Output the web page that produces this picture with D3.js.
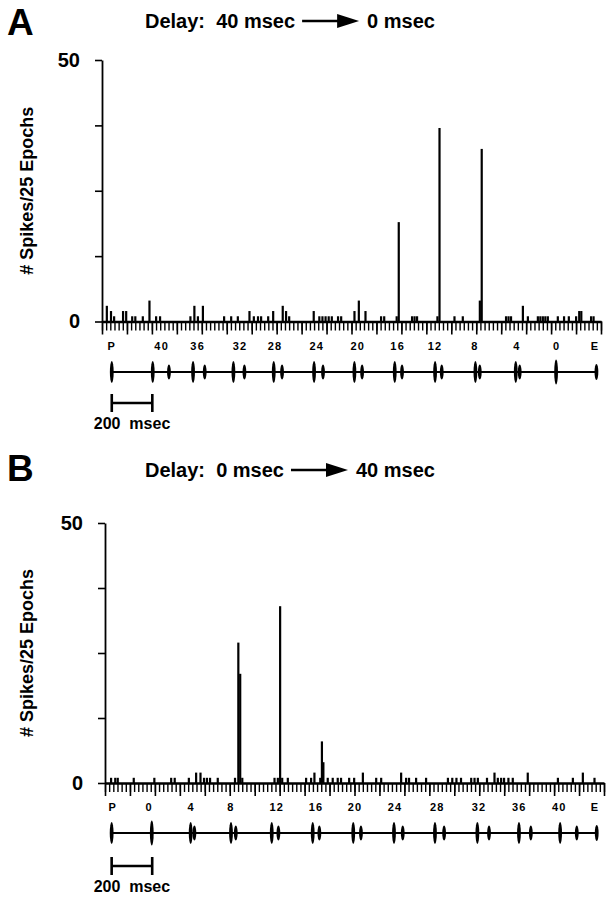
<!DOCTYPE html>
<html><head><meta charset="utf-8">
<script src="https://cdn.jsdelivr.net/npm/d3@7/dist/d3.min.js"></script>
<style>
body{margin:0;background:#fff}
svg{display:block}
text{font-family:"Liberation Sans",Arial,Helvetica,sans-serif;font-weight:bold;fill:#000}
</style>
</head><body>
<svg id="c" width="613" height="899"></svg>
<script>
// ---------- DATA ----------
const yTicks = [0, 12.5, 25, 37.5, 50];
const yTickLabels = {0: "0", 50: "50"};
const yTitle = "# Spikes/25 Epochs";
const scaleBarLabel = "200  msec";
const scaleBarLen = 195;           // axis units for 200 msec

// Panel A: delay 40 -> 0 msec
const titleA = ["Delay:  40 msec", "0 msec"];
const tickLabelsA = ["P","40","36","32","28","24","20","16","12","8","4","0","E"];
const tickPosA    = [47,287,460,664,832,1033,1230,1422,1602,1794,1995,2187,2371];
const markersA    = [47, 2378];                       // P, E
const firstPulseA = [244,438,632,826,1020,1214,1408,1602,1796,1990,2184];
const delayA      = [78,56,53,40,43,37,35,32,21,19,0];
const spikeTimesA = [18,38,53,96,111,140,155,191,223,255,274,420,439,456,480,582,616,648,704,725,745,760,794,818,864,880,895,1013,1040,1055,1070,1085,1100,1130,1145,1209,1230,1262,1337,1352,1412,1422,1486,1498,1510,1608,1618,1690,1730,1812,1821,1938,1950,1962,2019,2043,2091,2103,2115,2127,2139,2187,2217,2240,2275,2290,2300,2347,2359];
const spikeCountsA= [3,2,1,2,2,1,1,1,4,1,1,1,3,1,3,1,1,1,2,1,1,1,1,2,3,2,1,2,1,1,1,1,1,1,1,2,4,2,1,1,1,19,1,1,1,1,37,1,1,4,33,1,1,1,3,1,1,1,1,1,1,1,1,1,1,2,2,1,1];

// Panel B: delay 0 -> 40 msec
const titleB = ["Delay:  0 msec", "40 msec"];
const tickLabelsB = ["P","0","4","8","12","16","20","24","28","32","36","40","E"];
const tickPosB    = [37,213,414,606,826,1015,1203,1395,1598,1799,1993,2185,2357];
const markersB    = [32, 2365];
const firstPulseB = [225,412,606,802,999,1194,1390,1587,1791,1991,2189];
const delayB      = [0,18,23,32,32,37,42,44,56,57,80];
const spikeTimesB = [24,44,56,133,232,313,330,398,433,454,471,485,500,537,620,636,645,655,810,826,837,847,874,962,986,1002,1030,1038,1045,1066,1090,1114,1130,1169,1193,1235,1299,1323,1419,1443,1457,1491,1539,1644,1665,1685,1707,1756,1772,1788,1832,1868,1884,1900,1914,1935,1956,2028,2173,2245,2293,2349];
const spikeCountsB= [1,1,1,1,1,1,1,1,2,2,1,1,1,1,1,27,21,1,1,1,34,1,1,1,1,2,1,8,4,1,1,1,1,1,1,2,1,1,2,1,1,1,1,1,1,1,1,1,1,1,1,2,1,1,1,1,1,2,1,1,2,1];

// ---------- DRAW ----------
const svg = d3.select("#c");

function drawPanel(p) {
  const g = svg.append("g");
  const x = d3.scaleLinear().domain([0, 2400]).range([p.x0, p.x1]);
  const y = d3.scaleLinear().domain([0, 50]).range([p.base, p.top]);

  // panel letter
  g.append("text").attr("x", 7).attr("y", p.letterY).attr("font-size", 37).text(p.letter);

  // title with arrow
  const tl = g.append("text").attr("x", 145).attr("y", p.titleY).attr("font-size", 20)
    .style("white-space", "pre").text(p.title[0]);
  const le = 145 + tl.node().getComputedTextLength();
  const a0 = le + 7, a1 = le + 64;
  g.append("line").attr("x1", a0).attr("x2", a1 - 20).attr("y1", p.titleY - 7).attr("y2", p.titleY - 7)
    .attr("stroke", "#000").attr("stroke-width", 2.6);
  g.append("path").attr("d", `M${a1 - 22},${p.titleY - 14}L${a1},${p.titleY - 7}L${a1 - 22},${p.titleY}Z`).attr("fill", "#000");
  g.append("text").attr("x", a1 + 8).attr("y", p.titleY).attr("font-size", 20)
    .style("white-space", "pre").text(p.title[1]);

  // y axis
  const ya = g.append("g").attr("transform", `translate(${p.x0},0)`)
    .call(d3.axisLeft(y).tickValues(yTicks).tickSize(7).tickSizeOuter(0).tickPadding(15)
      .tickFormat(d => yTickLabels[d] || ""));
  ya.select(".domain").attr("stroke-width", 1.8);
  ya.selectAll(".tick line").attr("stroke-width", 1.6);
  ya.selectAll(".tick text").attr("font-size", 20).attr("font-family", null).attr("font-weight", "bold");

  // y title
  g.append("text").attr("transform", `translate(33,${(p.top + p.base) / 2}) rotate(-90)`)
    .attr("text-anchor", "middle").attr("font-size", 18).text(yTitle);

  // histogram bars
  g.selectAll("rect.bar").data(p.times.map((t, i) => ({t, c: p.counts[i]}))).join("rect")
    .attr("class", "bar")
    .attr("x", d => x(d.t)).attr("width", 2.2)
    .attr("y", d => y(d.c)).attr("height", d => y(0) - y(d.c)).attr("fill", "#000");

  // x axis: minor and major ticks
  const xa = g.append("g").attr("transform", `translate(0,${p.base})`)
    .call(d3.axisBottom(x).tickValues(d3.range(0, 2401, 20)).tickSize(9).tickSizeOuter(0).tickFormat(""));
  xa.select(".domain").attr("stroke-width", 2.6);
  xa.selectAll(".tick line").attr("stroke-width", 1.4);
  const xb = g.append("g").attr("transform", `translate(0,${p.base})`)
    .call(d3.axisBottom(x).tickValues(d3.range(0, 2401, 120)).tickSize(13).tickSizeOuter(0).tickFormat(""));
  xb.select(".domain").remove();
  xb.selectAll(".tick line").attr("stroke-width", 1.6);

  // event labels
  g.selectAll("text.lab").data(p.labels).join("text").attr("class", "lab")
    .attr("x", (d, i) => x(p.labelPos[i])).attr("y", p.base + 28)
    .attr("text-anchor", "middle").attr("font-size", 11).attr("letter-spacing", 1.2).text(d => d);

  // stimulus row
  const ey = p.eventY;
  g.append("line").attr("x1", x(p.markers[0])).attr("x2", x(p.markers[1]))
    .attr("y1", ey).attr("y2", ey).attr("stroke", "#000").attr("stroke-width", 2);
  const pulses = [];
  pulses.push({t: p.markers[0], ry: 11});
  pulses.push({t: p.markers[1], ry: 8});
  p.first.forEach((t, i) => {
    if (p.delay[i] === 0) { pulses.push({t, ry: 12.5}); }
    else { pulses.push({t, ry: 11}); pulses.push({t: t + p.delay[i], ry: 7.5}); }
  });
  g.selectAll("ellipse.pulse").data(pulses).join("ellipse").attr("class", "pulse")
    .attr("cx", d => x(d.t)).attr("cy", ey).attr("rx", 1.9).attr("ry", d => d.ry).attr("fill", "#000");

  // scale bar
  const sx0 = x(p.markers[0]), sx1 = x(p.markers[0] + scaleBarLen), sy = p.barY;
  g.append("path").attr("d", `M${sx0},${sy - 9}V${sy + 9}M${sx0},${sy}H${sx1}M${sx1},${sy - 9}V${sy + 9}`)
    .attr("stroke", "#000").attr("stroke-width", 2.6).attr("fill", "none");
  g.append("text").attr("x", (sx0 + sx1) / 2).attr("y", sy + 26).attr("text-anchor", "middle")
    .attr("font-size", 16).style("white-space", "pre").text(scaleBarLabel);
}

drawPanel({letter: "A", letterY: 35, title: titleA, titleY: 28,
  x0: 102, x1: 601, top: 60, base: 321.5,
  labels: tickLabelsA, labelPos: tickPosA, markers: markersA, first: firstPulseA, delay: delayA,
  times: spikeTimesA, counts: spikeCountsA, eventY: 372, barY: 403});

drawPanel({letter: "B", letterY: 481, title: titleB, titleY: 477,
  x0: 105, x1: 604, top: 523, base: 783,
  labels: tickLabelsB, labelPos: tickPosB, markers: markersB, first: firstPulseB, delay: delayB,
  times: spikeTimesB, counts: spikeCountsB, eventY: 833, barY: 866});
</script>
</body></html>
